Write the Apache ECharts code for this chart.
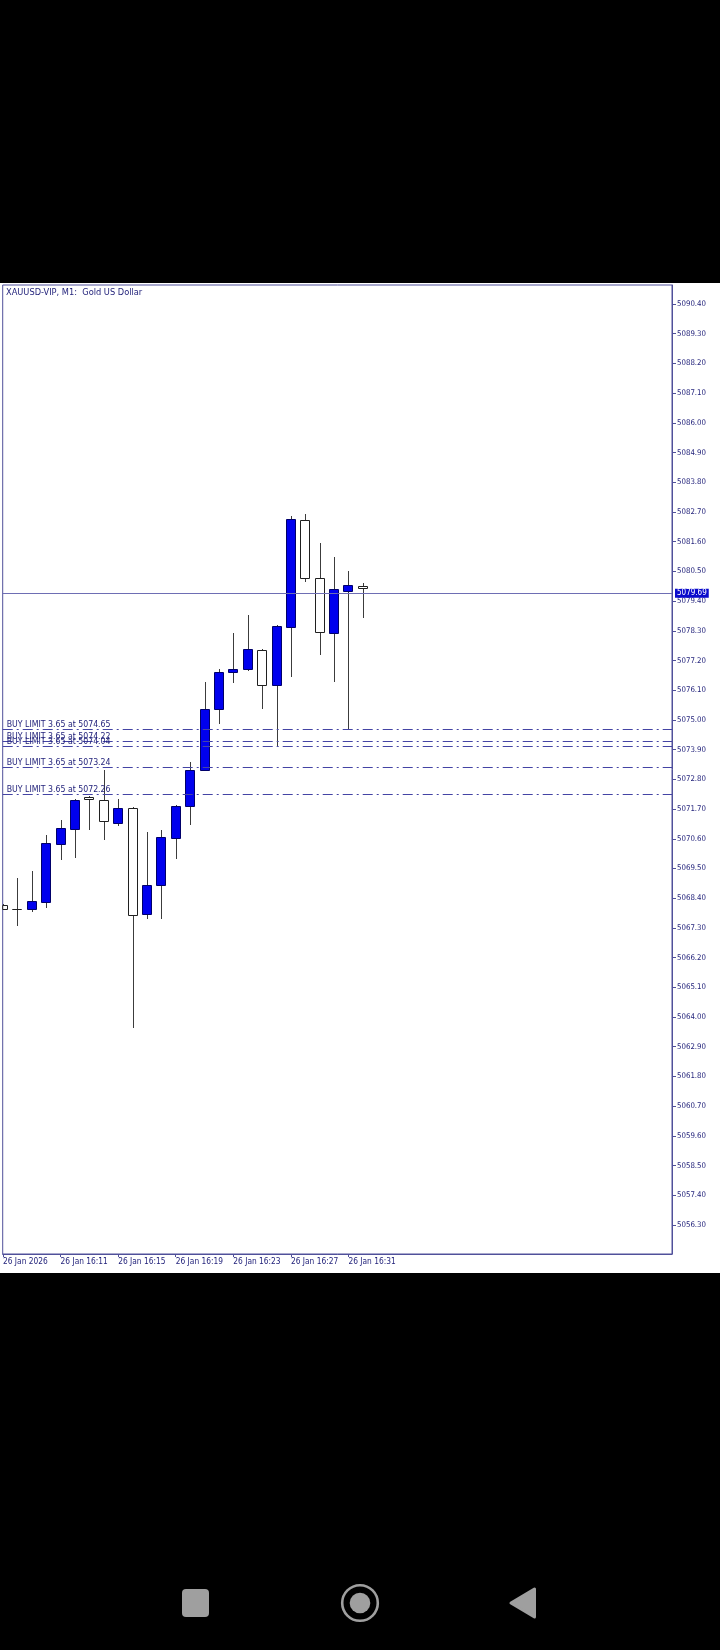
<!DOCTYPE html>
<html><head><meta charset="utf-8">
<script src="https://cdn.jsdelivr.net/npm/echarts@6/dist/echarts.min.js"></script>
<style>html,body{margin:0;padding:0;background:#000;}#c{width:720px;height:1650px;}</style>
</head><body><div id="c"></div>
<script>
// ---- data ----
const chartTitle = 'XAUUSD-VIP, M1:  Gold US Dollar';
const times  = ['16:07','16:08','16:09','16:10','16:11','16:12','16:13','16:14','16:15','16:16','16:17','16:18','16:19',
                '16:20','16:21','16:22','16:23','16:24','16:25','16:26','16:27','16:28','16:29','16:30','16:31','16:32'];
const opens  = [5068.15,5068.00,5067.99,5068.26,5070.39,5070.95,5072.13,5072.03,5071.20,5071.75,5067.83,5068.87,5070.63,
                5071.81,5073.14,5075.39,5076.78,5076.88,5077.59,5076.31,5078.44,5082.39,5080.26,5078.21,5079.79,5079.96];
const closes = [5067.99,5068.00,5068.31,5070.44,5071.01,5072.03,5072.06,5071.25,5071.75,5067.79,5068.88,5070.68,5071.83,
                5073.14,5075.41,5076.79,5076.90,5077.63,5076.28,5078.47,5082.45,5080.24,5078.26,5079.85,5079.98,5079.88];
const lows   = [5067.95,5067.37,5067.89,5068.04,5069.81,5069.89,5070.92,5070.55,5071.07,5063.61,5067.64,5067.62,5069.86,
                5071.12,5073.10,5074.84,5076.37,5076.80,5075.41,5074.03,5076.58,5080.09,5077.41,5076.40,5074.65,5078.78];
const highs  = [5068.18,5069.14,5069.41,5070.75,5071.28,5072.09,5072.20,5073.13,5072.08,5071.78,5070.85,5070.91,5071.85,
                5073.44,5076.41,5076.89,5078.21,5078.89,5077.62,5078.50,5082.56,5082.61,5081.55,5081.05,5080.50,5080.07];
const xTickTimes  = ['16:07','16:11','16:15','16:19','16:23','16:27','16:31'];
const xTickLabels = ['26 Jan 2026','26 Jan 16:11','26 Jan 16:15','26 Jan 16:19','26 Jan 16:23','26 Jan 16:27','26 Jan 16:31'];
const yTicks = [5056.30,5057.40,5058.50,5059.60,5060.70,5061.80,5062.90,5064.00,5065.10,5066.20,5067.30,5068.40,
                5069.50,5070.60,5071.70,5072.80,5073.90,5075.00,5076.10,5077.20,5078.30,5079.40,5080.50,5081.60,
                5082.70,5083.80,5084.90,5086.00,5087.10,5088.20,5089.30,5090.40];
const buyLimitPrices = [5074.65,5074.22,5074.04,5073.24,5072.26];
const buyLimitLots   = [3.65,3.65,3.65,3.65,3.65];
const currentPrice = 5079.69;

// ---- chart ----
const FONT = '"DejaVu Sans Condensed","DejaVu Sans","Liberation Sans",sans-serif';
const NAVY = '#1e1e78';
const FRAME = '#50509a';
const tickIdx = xTickTimes.map(t => times.indexOf(t));
const idxToLabel = {};
tickIdx.forEach((ix, k) => { idxToLabel[ix] = xTickLabels[k]; });
const candles = times.map((t, i) => [i, opens[i], closes[i], lows[i], highs[i]]);

function renderCandle(params, api) {
  const i = api.value(0), o = api.value(1), c = api.value(2), l = api.value(3), h = api.value(4);
  const pO = api.coord([i, o]), pC = api.coord([i, c]), pL = api.coord([i, l]), pH = api.coord([i, h]);
  const cs = params.coordSys;
  const clipArea = { x: cs.x, y: cs.y, width: cs.width, height: cs.height };
  const k = Math.round(pO[0]);
  const xc = k + 0.5;
  const top = Math.round(Math.min(pO[1], pC[1])) + 0.5;
  const bot = Math.round(Math.max(pO[1], pC[1])) + 0.5;
  const up = c > o;
  const children = [];
  if (xc >= cs.x) {
    children.push({ type: 'line', shape: { x1: xc, y1: Math.round(pH[1]), x2: xc, y2: Math.round(pL[1]) },
      style: { stroke: '#3c3c3c', lineWidth: 1 } });
  }
  const body = echarts.graphic.clipRectByRect({ x: k - 4.5, y: top, width: 9, height: bot - top }, clipArea);
  if (body) {
    children.push({ type: 'rect', shape: body,
      style: { fill: up ? '#0000ee' : '#ffffff', stroke: up ? '#00006a' : '#202020', lineWidth: 1 } });
  }
  return { type: 'group', children: children };
}

const limitLines = buyLimitPrices.map((p, k) => ({
  yAxis: p,
  lineStyle: { color: '#4444a4', width: 1, type: [10, 4, 2, 4] },
  label: {
    show: true, position: 'insideStartTop', distance: [4, 0],
    formatter: 'BUY LIMIT ' + buyLimitLots[k].toFixed(2) + ' at ' + p.toFixed(2),
    color: NAVY, fontSize: 8.7, fontFamily: FONT, lineHeight: 9
  }
}));

const chart = echarts.init(document.getElementById('c'), null, { renderer: 'canvas' });
chart.setOption({
  backgroundColor: '#000000',
  animation: false,
  title: {
    text: chartTitle, left: 6, top: 288, padding: 0,
    textStyle: { color: NAVY, fontSize: 9.2, fontWeight: 'normal', fontFamily: FONT, lineHeight: 10 }
  },
  graphic: [
    { type: 'rect', z: -10, silent: true, shape: { x: 0, y: 283, width: 720, height: 990 }, style: { fill: '#ffffff' } },
    { type: 'rect', silent: true, shape: { x: 182, y: 1589, width: 27, height: 28, r: 4 }, style: { fill: '#9f9f9f' } },
    { type: 'circle', silent: true, shape: { cx: 360, cy: 1603, r: 17.8 }, style: { fill: 'none', stroke: '#9f9f9f', lineWidth: 2.6 } },
    { type: 'circle', silent: true, shape: { cx: 360, cy: 1603, r: 10.3 }, style: { fill: '#9f9f9f' } },
    { type: 'polygon', silent: true, shape: { points: [[511, 1603], [534.5, 1589], [534.5, 1617]] },
      style: { fill: '#9f9f9f', stroke: '#9f9f9f', lineWidth: 3, lineJoin: 'round' } }
  ],
  grid: { left: 2, right: 48, top: 285, bottom: 396, show: true, backgroundColor: '#ffffff', borderColor: FRAME, borderWidth: 1 },
  xAxis: {
    type: 'value', min: -0.02, max: 46.475,
    axisLine: { show: true, onZero: false, lineStyle: { color: FRAME, width: 1 } },
    axisTick: { show: true, length: 3, customValues: tickIdx, lineStyle: { color: FRAME } },
    axisLabel: {
      show: true, customValues: tickIdx, align: 'left', margin: 4,
      formatter: v => idxToLabel[Math.round(v)] || '',
      color: NAVY, fontSize: 8.3, fontFamily: FONT
    },
    splitLine: { show: false }
  },
  yAxis: {
    type: 'value', position: 'right', min: 5055.226, max: 5091.103, scale: true,
    axisLine: { show: true, onZero: false, lineStyle: { color: FRAME, width: 1 } },
    axisTick: { show: true, inside: false, length: 4, customValues: yTicks, lineStyle: { color: FRAME } },
    axisLabel: {
      show: true, customValues: yTicks, margin: 5,
      formatter: v => Number(v).toFixed(2),
      color: NAVY, fontSize: 7.8, fontFamily: FONT
    },
    splitLine: { show: false }
  },
  series: [
    {
      type: 'custom', name: 'XAUUSD', renderItem: renderCandle, data: candles, clip: true,
      encode: { x: 0, y: [1, 2, 3, 4] }, z: 3
    },
    {
      type: 'line', name: 'levels', data: [], silent: true, z: 4,
      markLine: {
        silent: true, symbol: ['none', 'none'], animation: false,
        data: limitLines.concat([{
          yAxis: currentPrice,
          lineStyle: { color: '#6e6eb4', width: 1, type: 'solid' },
          label: {
            show: true, position: 'end', distance: 3,
            formatter: currentPrice.toFixed(2),
            color: '#ffffff', backgroundColor: '#0b0bcc', padding: [1, 2, 0, 2],
            fontSize: 8, lineHeight: 8, fontFamily: FONT
          }
        }])
      }
    }
  ]
});
</script>
</body></html>
